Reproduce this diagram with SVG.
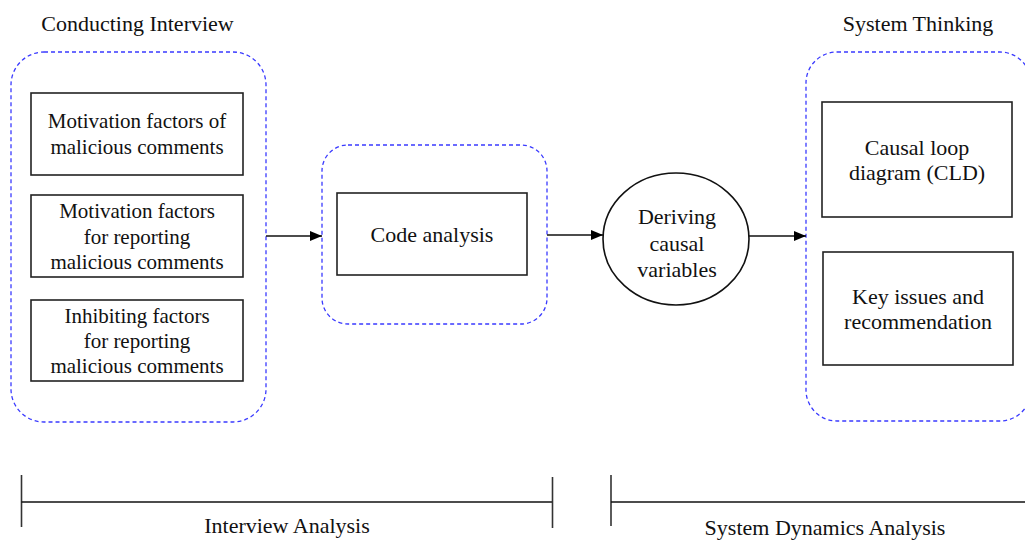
<svg xmlns="http://www.w3.org/2000/svg" width="1025" height="540" viewBox="0 0 1025 540">
<style>
text{font-family:"Liberation Serif","Times New Roman",serif;fill:#111;text-anchor:middle}
.t21{font-size:21px}
.t22{font-size:22px}
.grp{fill:none;stroke:#3a3aff;stroke-width:1.3;stroke-dasharray:4 3}
.box{fill:#fff;stroke:#222;stroke-width:1.6}
.ln{stroke:#111;stroke-width:1.6;fill:none}
.tick{stroke:#333;stroke-width:1.6}
</style>
<defs>
<marker id="arr" markerWidth="12" markerHeight="10" refX="12" refY="5" orient="auto" markerUnits="userSpaceOnUse">
<path d="M0,0 L12,5 L0,10 Z" fill="#000"/>
</marker>
</defs>

<g id="title-left"><text class="t22" x="137.5" y="31">Conducting Interview</text></g>
<g id="title-right"><text class="t22" x="918" y="31">System Thinking</text></g>

<g id="group-interview"><rect class="grp" x="11" y="52" width="255" height="370" rx="33" ry="33"/></g>
<g id="node-motivation-malicious">
<rect class="box" x="31" y="93" width="212" height="82"/>
<text class="t21" x="137" y="128">Motivation factors of</text>
<text class="t21" x="137" y="154">malicious comments</text>
</g>
<g id="node-motivation-reporting">
<rect class="box" x="31" y="195" width="212" height="82"/>
<text class="t21" x="137" y="218">Motivation factors</text>
<text class="t21" x="137" y="243.5">for reporting</text>
<text class="t21" x="137" y="269">malicious comments</text>
</g>
<g id="node-inhibiting-reporting">
<rect class="box" x="31" y="300" width="212" height="81"/>
<text class="t21" x="137" y="323">Inhibiting factors</text>
<text class="t21" x="137" y="348">for reporting</text>
<text class="t21" x="137" y="373">malicious comments</text>
</g>

<g id="group-code"><rect class="grp" x="322" y="145" width="225" height="179" rx="26" ry="26"/></g>
<g id="node-code-analysis">
<rect class="box" x="337" y="193" width="190" height="82"/>
<text class="t22" x="432" y="242">Code analysis</text>
</g>

<g id="node-deriving">
<ellipse cx="676" cy="239" rx="73" ry="66" fill="#fff" stroke="#111" stroke-width="1.6"/>
<text class="t22" x="677" y="224">Deriving</text>
<text class="t22" x="677" y="251">causal</text>
<text class="t22" x="677" y="277">variables</text>
</g>

<g id="group-system"><rect class="grp" x="806" y="52" width="225" height="369" rx="31" ry="31"/></g>
<g id="node-cld">
<rect class="box" x="822" y="102" width="190" height="115"/>
<text class="t22" x="917" y="155">Causal loop</text>
<text class="t22" x="917" y="180">diagram (CLD)</text>
</g>
<g id="node-key-issues">
<rect class="box" x="823" y="252" width="190" height="113"/>
<text class="t22" x="918" y="304">Key issues and</text>
<text class="t22" x="918" y="329">recommendation</text>
</g>

<g id="connectors">
<line class="ln" x1="266" y1="236" x2="322" y2="236" marker-end="url(#arr)"/>
<line class="ln" x1="547" y1="235" x2="603" y2="235" marker-end="url(#arr)"/>
<line class="ln" x1="749" y1="236" x2="806" y2="236" marker-end="url(#arr)"/>
</g>

<g id="bracket-interview">
<line class="tick" x1="21.5" y1="475" x2="21.5" y2="527"/>
<line class="ln" x1="21.5" y1="502" x2="552" y2="502" stroke-width="2"/>
<line class="tick" x1="552.5" y1="477" x2="552.5" y2="528"/>
<text class="t22" x="287" y="533">Interview Analysis</text>
</g>
<g id="bracket-system">
<line class="tick" x1="611" y1="475" x2="611" y2="526"/>
<line class="ln" x1="611" y1="502" x2="1025" y2="502" stroke-width="2"/>
<text class="t22" x="825" y="535">System Dynamics Analysis</text>
</g>
</svg>
